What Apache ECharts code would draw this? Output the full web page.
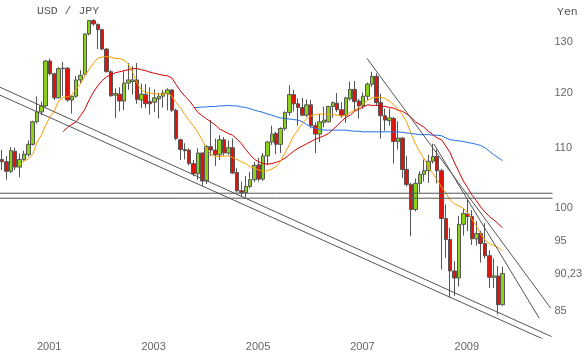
<!DOCTYPE html>
<html><head><meta charset="utf-8">
<script src="https://cdn.jsdelivr.net/npm/echarts@6/dist/echarts.min.js"></script>
<style>html,body{margin:0;padding:0;background:#fff}#c{width:585px;height:352px}</style>
</head><body><div id="c"></div>
<script>
const months = [
'2000-05','2000-06','2000-07','2000-08','2000-09','2000-10','2000-11','2000-12',
'2001-01','2001-02','2001-03','2001-04','2001-05','2001-06','2001-07','2001-08','2001-09','2001-10','2001-11','2001-12',
'2002-01','2002-02','2002-03','2002-04','2002-05','2002-06','2002-07','2002-08','2002-09','2002-10','2002-11','2002-12',
'2003-01','2003-02','2003-03','2003-04','2003-05','2003-06','2003-07','2003-08','2003-09','2003-10','2003-11','2003-12',
'2004-01','2004-02','2004-03','2004-04','2004-05','2004-06','2004-07','2004-08','2004-09','2004-10','2004-11','2004-12',
'2005-01','2005-02','2005-03','2005-04','2005-05','2005-06','2005-07','2005-08','2005-09','2005-10','2005-11','2005-12',
'2006-01','2006-02','2006-03','2006-04','2006-05','2006-06','2006-07','2006-08','2006-09','2006-10','2006-11','2006-12',
'2007-01','2007-02','2007-03','2007-04','2007-05','2007-06','2007-07','2007-08','2007-09','2007-10','2007-11','2007-12',
'2008-01','2008-02','2008-03','2008-04','2008-05','2008-06','2008-07','2008-08','2008-09','2008-10','2008-11','2008-12',
'2009-01','2009-02','2009-03','2009-04','2009-05','2009-06','2009-07','2009-08','2009-09','2009-10','2009-11','2009-12',
'2010-01','2010-02','2010-03','2010-04','2010-05','2010-06','2010-07','2010-08','2010-09','2010-10','2010-11'];

const opens = [108.0,107.6,106.0,109.4,106.7,108.0,108.8,110.6,114.6,116.4,
117.5,126.1,123.6,119.0,124.6,124.7,118.6,119.3,122.4,123.5,
131.6,134.4,133.6,132.5,128.5,124.0,119.5,119.7,118.4,121.8,
122.1,122.4,118.6,119.6,118.3,118.2,118.8,119.3,119.8,120.5,
116.7,111.4,109.7,109.6,107.3,105.6,109.1,104.4,110.2,109.6,
108.8,111.4,109.1,110.0,105.8,102.8,102.5,103.5,104.6,107.1,
104.7,108.6,111.0,112.5,110.6,113.4,116.3,119.6,117.9,117.2,
115.8,117.7,113.9,112.4,114.5,114.6,117.4,118.0,116.8,115.8,
118.8,120.6,118.4,117.5,119.3,121.6,123.1,118.1,115.7,114.8,
115.2,111.1,111.7,106.3,103.8,99.8,104.0,105.5,106.1,107.7,
108.5,106.1,98.4,95.2,90.6,89.6,97.5,99.1,98.7,95.3,
96.1,94.6,92.8,89.7,89.9,85.9];
const highs = [109.6,108.6,110.1,110.0,109.0,109.5,111.3,114.8,119.3,118.3,
126.3,126.6,123.8,124.9,125.9,124.9,119.4,123.2,124.3,131.7,
134.5,134.7,133.8,132.7,128.7,124.3,120.8,121.0,124.1,125.7,
125.1,125.7,121.7,121.6,121.0,120.6,120.0,120.5,120.8,120.6,
117.0,111.6,110.8,109.9,107.9,109.9,109.2,110.5,114.9,111.6,
112.2,111.9,111.3,111.6,106.5,104.3,105.2,105.9,107.6,108.3,
109.1,111.2,113.9,112.8,113.6,116.5,121.4,120.5,118.9,119.0,
118.7,118.6,114.5,116.0,117.4,117.5,118.3,119.9,118.2,119.2,
122.1,122.2,118.8,120.0,121.9,124.0,123.7,119.8,117.0,117.0,
115.5,114.7,111.8,108.6,104.1,104.8,106.0,108.0,108.8,110.7,
109.7,106.4,100.6,97.0,92.0,98.8,100.0,101.4,99.7,98.0,
96.5,97.7,93.6,92.4,91.3,91.2];
const lows = [106.2,104.6,105.7,106.2,105.0,107.8,108.5,110.4,114.3,115.8,
117.2,123.3,118.6,118.9,119.4,118.3,116.1,119.0,121.8,123.3,
131.3,133.3,128.5,128.3,123.9,119.2,115.3,116.5,116.7,120.5,
119.6,117.9,117.1,117.1,115.9,116.4,115.2,117.2,116.7,116.4,
111.3,107.9,108.0,107.0,105.2,104.6,103.6,103.9,108.6,106.9,
107.9,108.6,108.8,105.6,102.5,101.9,101.7,103.2,104.2,104.3,
104.4,107.0,110.5,108.9,109.1,113.0,115.7,116.5,113.9,115.6,
115.5,113.4,109.1,111.0,113.6,114.5,115.3,116.4,115.3,114.4,
118.5,116.5,115.2,117.0,118.6,121.1,117.5,111.6,113.0,113.9,
107.3,109.7,104.9,103.5,95.7,99.5,102.5,104.3,104.1,107.3,
104.0,90.8,92.5,86.9,87.1,88.4,95.8,96.5,94.4,94.3,
91.8,92.4,88.2,88.2,84.6,85.8];
const closes = [107.6,106.0,109.5,106.7,108.0,108.9,110.6,114.6,116.4,117.5,
126.1,123.6,119.0,124.6,124.7,118.6,119.3,122.4,123.3,131.6,
134.4,133.7,132.5,128.5,124.0,119.4,119.8,118.4,121.8,122.4,
122.4,118.7,119.7,117.9,117.9,119.0,119.3,119.9,120.5,116.7,
111.6,109.7,109.5,107.3,105.6,109.1,104.4,110.2,109.6,108.8,
111.4,109.1,110.0,105.7,102.8,102.5,103.5,104.6,107.0,104.7,
108.6,111.0,112.4,110.6,113.4,116.3,119.6,117.9,117.2,115.8,
117.7,113.9,112.4,114.6,114.9,117.4,118.1,116.8,115.8,119.0,
120.6,118.3,117.5,119.3,121.6,123.1,118.1,115.7,114.9,115.3,
111.1,111.7,106.3,103.8,99.8,104.0,105.5,106.1,107.7,108.5,
106.1,98.4,95.2,90.6,89.6,97.5,99.2,98.7,95.3,96.1,
94.6,92.8,89.7,89.9,85.9,90.23];

// moving averages (first month index + values)
const maShortStart = 4;
const maShort = [107.0,107.7,108.1,108.8,111.0,112.2,114.0,115.5,116.6,118.4,
119.1,119.2,119.5,120.7,121.6,123.2,124.5,125.7,126.7,126.9,
127.0,126.9,126.6,126.6,126.3,125.5,123.9,121.8,120.5,120.0,
119.9,119.8,119.7,119.7,119.8,119.3,118.1,117.1,115.9,114.8,
113.8,112.7,111.3,109.8,108.9,108.5,108.5,108.6,108.6,108.3,
108.0,107.6,107.3,106.8,106.5,106.2,106.0,106.1,106.4,106.8,
107.7,109.1,110.5,112.1,113.1,114.3,115.2,115.7,115.9,116.0,
116.0,116.0,115.9,115.8,115.6,115.8,116.3,116.7,117.2,117.9,
118.5,119.0,119.1,119.1,118.9,118.4,117.7,116.9,115.9,114.5,
112.5,110.7,109.3,108.1,106.7,105.6,104.6,103.4,102.4,101.3,
100.7,100.4,100.0,99.3,98.3,97.3,96.0,95.1,94.6,94.3,
94.0,93.5];
const maMidStart = 14;
const maMid = [112.8,113.6,114.1,114.6,115.7,116.9,118.6,120.1,121.3,122.3,
123.0,123.4,123.8,124.0,124.2,124.4,124.6,124.6,124.4,124.2,
123.9,123.7,123.5,123.3,123.2,122.8,121.5,120.3,119.3,118.5,
117.4,116.3,115.7,115.1,114.6,114.0,113.3,112.9,112.5,112.2,
111.5,110.7,109.7,108.8,108.0,107.6,107.3,107.2,107.3,107.5,
107.8,108.2,108.8,109.4,109.9,110.3,110.7,111.1,111.5,111.8,
112.1,112.5,113.2,113.9,114.7,115.4,115.8,116.5,116.9,117.3,
117.7,117.6,117.6,117.5,117.4,117.2,117.1,116.7,116.5,116.0,
115.4,114.6,114.1,113.6,112.9,112.3,111.7,111.4,110.3,109.1,
107.4,105.9,104.4,103.3,102.1,101.2,100.2,99.4,98.7,98.2,
97.6,97.0];
const maLongStart = 44;
const maLong = [117.2,117.2,117.3,117.3,117.4,117.4,117.5,117.5,117.6,117.5,
117.5,117.3,117.2,117.0,116.7,116.5,116.3,116.0,115.8,115.5,
115.3,115.2,115.1,115.0,114.9,114.6,114.1,113.7,113.4,113.2,
113.1,113.1,113.1,113.1,113.1,113.1,113.0,112.9,112.9,112.8,
112.8,112.8,112.8,112.8,112.8,112.8,112.8,112.8,112.7,112.6,
112.5,112.4,112.3,112.3,112.3,112.2,112.2,112.1,111.7,111.4,
111.3,111.2,111.1,110.9,110.8,110.6,110.4,110.0,109.4,108.8,
108.3,107.8];

// drawn lines: [month index, price] endpoints
const channelUpper = [[-0.5, 121.0], [126.3, 81.7]];
const channelLower = [[-0.5, 119.5], [126.3, 80.9]];
const resistA = [[83.85, 126.65], [126.11, 85.43]];
const resistB = [[99.25, 110.66], [123.46, 84.10]];
const supportHigh = [[-0.5, 102.4], [126.5, 102.4]];
const supportLow = [[-0.5, 101.6], [126.5, 101.6]];

const yTicks = [85, 90.23, 95, 100, 110, 120, 130];
const yTickLabels = ['85', '90,23', '95', '100', '110', '120', '130'];
const yearLabels = ['2001', '2003', '2005', '2007', '2009'];

const candles = opens.map((o, i) => [o, closes[i], lows[i], highs[i]]);
const toPts = (arr, start) => arr.map((v, k) => [k + start, v]);

const lineSeries = (data, color, z) => ({
  type: 'line', xAxisIndex: 1, yAxisIndex: 0, data: data, showSymbol: false,
  symbol: 'none', silent: true, z: z, clip: true,
  lineStyle: { color: color, width: 1 }
});

const monoText = { fontFamily: 'Liberation Mono', fontSize: 11.5, fontWeight: 'normal', color: '#555' };

const chart = echarts.init(document.getElementById('c'), null, { renderer: 'canvas' });
chart.setOption({
  animation: false,
  backgroundColor: '#ffffff',
  title: [
    { text: 'USD / JPY', left: 37, top: 5, padding: 0, textStyle: monoText },
    { text: 'Yen', left: 557, top: 6, padding: 0, textStyle: monoText }
  ],
  grid: { left: 0, right: 29, top: 0, bottom: 14, containLabel: false },
  xAxis: [
    { type: 'category', data: months, boundaryGap: true,
      axisLine: { show: false }, axisTick: { show: false }, splitLine: { show: false },
      axisLabel: {
        interval: (idx, val) => val.slice(5) === '01' && yearLabels.indexOf(val.slice(0, 4)) >= 0,
        formatter: (val) => val.slice(0, 4),
        align: 'left', margin: 3, color: '#666', fontSize: 11, fontFamily: 'Liberation Sans'
      } },
    { type: 'value', min: -0.5, max: months.length - 0.5, show: false }
  ],
  yAxis: [{
    type: 'log', logBase: 10, min: 81.52, max: 138.83, position: 'right',
    axisLine: { show: false }, axisTick: { show: false }, splitLine: { show: false },
    axisLabel: {
      customValues: yTicks,
      formatter: (v) => {
        let best = 0;
        yTicks.forEach((t, k) => { if (Math.abs(t - v) < Math.abs(yTicks[best] - v)) best = k; });
        return yTickLabels[best];
      },
      margin: 2, color: '#666', fontSize: 11, fontFamily: 'Liberation Sans'
    }
  }],
  series: [
    { type: 'candlestick', xAxisIndex: 0, yAxisIndex: 0, data: candles, barWidth: 4, z: 2,
      itemStyle: { color: '#8cd317', color0: '#e0140c', borderColor: '#555', borderColor0: '#555', borderWidth: 1 } },
    lineSeries(toPts(maLong, maLongStart), '#1f6fe6', 3),
    lineSeries(toPts(maMid, maMidStart), '#d40000', 3),
    lineSeries(toPts(maShort, maShortStart), '#f5a000', 3),
    lineSeries(channelUpper, '#555', 4),
    lineSeries(channelLower, '#555', 4),
    lineSeries(resistA, '#555', 4),
    lineSeries(resistB, '#555', 4),
    lineSeries(supportHigh, '#555', 4),
    lineSeries(supportLow, '#555', 4)
  ]
});
</script></body></html>
